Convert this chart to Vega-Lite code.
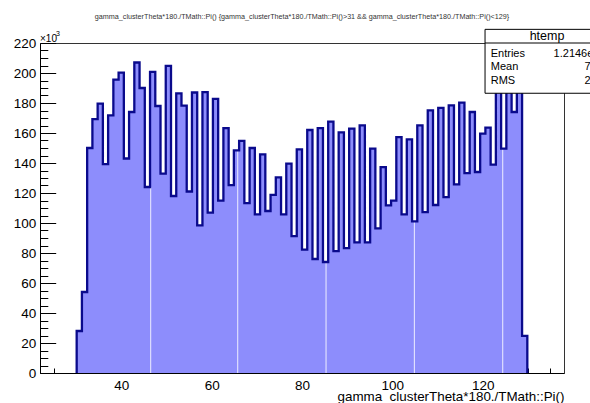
{
  "$schema": "https://vega.github.io/schema/vega-lite/v6.json",
  "width": 524,
  "height": 330,
  "autosize": {"type": "none"},
  "padding": {"left": 40, "top": 43, "right": 26, "bottom": 30},
  "background": "white",
  "config": {
    "view": {"stroke": "#333333", "strokeWidth": 1},
    "font": "Liberation Sans",
    "axis": {"labelFont": "Liberation Sans", "titleFont": "Liberation Sans", "grid": false}
  },
  "datasets": {
    "hist": [
      {"x": 30.12, "v": 0},
      {"x": 30.12, "v": 28000},
      {"x": 31.28, "v": 54000},
      {"x": 32.44, "v": 150000},
      {"x": 33.60, "v": 169300},
      {"x": 34.76, "v": 179600},
      {"x": 35.92, "v": 139300},
      {"x": 37.08, "v": 171800},
      {"x": 38.24, "v": 195600},
      {"x": 39.40, "v": 200200},
      {"x": 40.56, "v": 143000},
      {"x": 41.72, "v": 174000},
      {"x": 42.88, "v": 207000},
      {"x": 44.04, "v": 190000},
      {"x": 45.20, "v": 124000},
      {"x": 46.36, "v": 200700},
      {"x": 47.52, "v": 178000},
      {"x": 48.68, "v": 132900},
      {"x": 49.84, "v": 204700},
      {"x": 51.00, "v": 118000},
      {"x": 52.16, "v": 186400},
      {"x": 53.32, "v": 178200},
      {"x": 54.48, "v": 121000},
      {"x": 55.64, "v": 187000},
      {"x": 56.80, "v": 98400},
      {"x": 57.96, "v": 187300},
      {"x": 59.12, "v": 106900},
      {"x": 60.28, "v": 182700},
      {"x": 61.44, "v": 114900},
      {"x": 62.60, "v": 163300},
      {"x": 63.76, "v": 125300},
      {"x": 64.92, "v": 148400},
      {"x": 66.08, "v": 154700},
      {"x": 67.24, "v": 113300},
      {"x": 68.40, "v": 150000},
      {"x": 69.56, "v": 105800},
      {"x": 70.72, "v": 145800},
      {"x": 71.88, "v": 108000},
      {"x": 73.04, "v": 118700},
      {"x": 74.20, "v": 130400},
      {"x": 75.36, "v": 105800},
      {"x": 76.52, "v": 139600},
      {"x": 77.68, "v": 91300},
      {"x": 78.84, "v": 149100},
      {"x": 80.00, "v": 82200},
      {"x": 81.16, "v": 162000},
      {"x": 82.32, "v": 76000},
      {"x": 83.48, "v": 163300},
      {"x": 84.64, "v": 74000},
      {"x": 85.80, "v": 167600},
      {"x": 86.96, "v": 81300},
      {"x": 88.12, "v": 160400},
      {"x": 89.28, "v": 83300},
      {"x": 90.44, "v": 162900},
      {"x": 91.60, "v": 87100},
      {"x": 92.76, "v": 165100},
      {"x": 93.92, "v": 87100},
      {"x": 95.08, "v": 149600},
      {"x": 96.24, "v": 96400},
      {"x": 97.40, "v": 137300},
      {"x": 98.56, "v": 111800},
      {"x": 99.72, "v": 114900},
      {"x": 100.88, "v": 157300},
      {"x": 102.04, "v": 105800},
      {"x": 103.20, "v": 155800},
      {"x": 104.36, "v": 101100},
      {"x": 105.52, "v": 165100},
      {"x": 106.68, "v": 107300},
      {"x": 107.84, "v": 175100},
      {"x": 109.00, "v": 112000},
      {"x": 110.16, "v": 176700},
      {"x": 111.32, "v": 117300},
      {"x": 112.48, "v": 178400},
      {"x": 113.64, "v": 125800},
      {"x": 114.80, "v": 180200},
      {"x": 115.96, "v": 133300},
      {"x": 117.12, "v": 174000},
      {"x": 118.28, "v": 134000},
      {"x": 119.44, "v": 159600},
      {"x": 120.60, "v": 163600},
      {"x": 121.76, "v": 138900},
      {"x": 122.92, "v": 200000},
      {"x": 124.08, "v": 149600},
      {"x": 125.24, "v": 209500},
      {"x": 126.40, "v": 174000},
      {"x": 127.56, "v": 196000},
      {"x": 128.72, "v": 24700},
      {"x": 129.88, "v": 0}
    ],
    "seams": [
      {"x": 46.51, "v": 124000},
      {"x": 65.77, "v": 148400},
      {"x": 85.32, "v": 74000},
      {"x": 104.87, "v": 101100},
      {"x": 124.44, "v": 149600}
    ],
    "one": [{}]
  },
  "resolve": {"axis": {"x": "independent", "y": "independent"}},
  "layer": [
    {
      "data": {"name": "hist"},
      "mark": {"type": "area", "interpolate": "step-after", "fill": "#8d8dfc", "stroke": null},
      "encoding": {
        "x": {
          "field": "x", "type": "quantitative",
          "scale": {"domain": [22, 138], "nice": false, "zero": false},
          "axis": {
            "orient": "bottom",
            "values": [40, 60, 80, 100, 120],
            "tickSize": -10, "tickColor": "#000000", "tickWidth": 1,
            "domainColor": "#000000", "domainWidth": 1,
            "labelFontSize": 13.5, "labelColor": "#000000", "labelPadding": 15,
            "format": "d",
            "title": "gamma_clusterTheta*180./TMath::Pi()",
            "titleFontSize": 13.4, "titleFontWeight": "normal", "titleColor": "#000000",
            "titleAnchor": "end", "titleAlign": "right", "titleBaseline": "alphabetic", "titleY": 27.3
          }
        },
        "y": {
          "field": "v", "type": "quantitative",
          "scale": {"domain": [0, 220000], "nice": false},
          "axis": {
            "orient": "left",
            "values": [0, 20000, 40000, 60000, 80000, 100000, 120000, 140000, 160000, 180000, 200000, 220000],
            "tickSize": -15.7, "tickColor": "#000000", "tickWidth": 1,
            "domainColor": "#000000", "domainWidth": 1,
            "labelFontSize": 13.5, "labelColor": "#000000", "labelPadding": 20,
            "labelExpr": "format(datum.value / 1000, 'd')",
            "title": null
          }
        }
      }
    },
    {
      "data": {"name": "seams"},
      "mark": {"type": "rule", "color": "#ffffff", "strokeWidth": 1, "opacity": 0.85},
      "encoding": {
        "x": {"field": "x", "type": "quantitative", "axis": null},
        "y": {"field": "v", "type": "quantitative", "axis": null},
        "y2": {"datum": 0}
      }
    },
    {
      "data": {"name": "hist"},
      "mark": {"type": "line", "interpolate": "step-after", "stroke": "#0a0a8c", "strokeWidth": 2.3},
      "encoding": {
        "x": {
          "field": "x", "type": "quantitative",
          "axis": {
            "orient": "bottom",
            "values": [25, 30, 35, 45, 50, 55, 65, 70, 75, 85, 90, 95, 105, 110, 115, 125, 130, 135],
            "tickSize": -5, "tickColor": "#000000", "tickWidth": 1,
            "domain": false, "labels": false, "title": null
          }
        },
        "y": {
          "field": "v", "type": "quantitative",
          "axis": {
            "orient": "left",
            "values": [5000, 10000, 15000, 25000, 30000, 35000, 45000, 50000, 55000, 65000, 70000, 75000, 85000, 90000, 95000, 105000, 110000, 115000, 125000, 130000, 135000, 145000, 150000, 155000, 165000, 170000, 175000, 185000, 190000, 195000, 205000, 210000, 215000],
            "tickSize": -7.8, "tickColor": "#000000", "tickWidth": 1,
            "domain": false, "labels": false, "title": null
          }
        }
      }
    },
    {
      "data": {"name": "one"},
      "mark": {"type": "rect", "fill": "#ffffff", "stroke": "#000000", "strokeWidth": 1},
      "encoding": {
        "x": {"datum": 120.52, "type": "quantitative", "axis": null},
        "x2": {"datum": 160},
        "y": {"datum": 229100, "type": "quantitative", "axis": null},
        "y2": {"datum": 186500}
      }
    },
    {
      "data": {"name": "one"},
      "mark": {"type": "rule", "stroke": "#000000", "strokeWidth": 1},
      "encoding": {
        "x": {"datum": 120.52, "type": "quantitative", "axis": null},
        "x2": {"datum": 160},
        "y": {"datum": 220000, "type": "quantitative", "axis": null}
      }
    },
    {
      "data": {"name": "one"},
      "mark": {"type": "text", "align": "center", "baseline": "alphabetic", "fontSize": 12.5, "color": "#000000"},
      "encoding": {
        "x": {"datum": 134.24, "type": "quantitative", "axis": null},
        "y": {"datum": 222300, "type": "quantitative", "axis": null},
        "text": {"value": "htemp"}
      }
    },
    {
      "data": {"name": "one"},
      "mark": {"type": "text", "align": "left", "baseline": "alphabetic", "fontSize": 11, "color": "#000000"},
      "encoding": {
        "x": {"datum": 121.78, "type": "quantitative", "axis": null},
        "y": {"datum": 210700, "type": "quantitative", "axis": null},
        "text": {"value": "Entries"}
      }
    },
    {
      "data": {"name": "one"},
      "mark": {"type": "text", "align": "left", "baseline": "alphabetic", "fontSize": 11, "color": "#000000"},
      "encoding": {
        "x": {"datum": 121.78, "type": "quantitative", "axis": null},
        "y": {"datum": 201800, "type": "quantitative", "axis": null},
        "text": {"value": "Mean"}
      }
    },
    {
      "data": {"name": "one"},
      "mark": {"type": "text", "align": "left", "baseline": "alphabetic", "fontSize": 11, "color": "#000000"},
      "encoding": {
        "x": {"datum": 121.78, "type": "quantitative", "axis": null},
        "y": {"datum": 192500, "type": "quantitative", "axis": null},
        "text": {"value": "RMS"}
      }
    },
    {
      "data": {"name": "one"},
      "mark": {"type": "text", "align": "right", "baseline": "alphabetic", "fontSize": 11, "color": "#000000"},
      "encoding": {
        "x": {"datum": 148.63, "type": "quantitative", "axis": null},
        "y": {"datum": 210700, "type": "quantitative", "axis": null},
        "text": {"value": "1.2146e+07"}
      }
    },
    {
      "data": {"name": "one"},
      "mark": {"type": "text", "align": "right", "baseline": "alphabetic", "fontSize": 11, "color": "#000000"},
      "encoding": {
        "x": {"datum": 148.63, "type": "quantitative", "axis": null},
        "y": {"datum": 201800, "type": "quantitative", "axis": null},
        "text": {"value": "79.21"}
      }
    },
    {
      "data": {"name": "one"},
      "mark": {"type": "text", "align": "right", "baseline": "alphabetic", "fontSize": 11, "color": "#000000"},
      "encoding": {
        "x": {"datum": 148.63, "type": "quantitative", "axis": null},
        "y": {"datum": 192500, "type": "quantitative", "axis": null},
        "text": {"value": "29.04"}
      }
    },
    {
      "data": {"name": "one"},
      "mark": {"type": "text", "align": "left", "baseline": "alphabetic", "fontSize": 10, "color": "#000000"},
      "encoding": {
        "x": {"datum": 22.0, "type": "quantitative", "axis": null},
        "y": {"datum": 220700, "type": "quantitative", "axis": null},
        "text": {"value": "×10"}
      }
    },
    {
      "data": {"name": "one"},
      "mark": {"type": "text", "align": "left", "baseline": "alphabetic", "fontSize": 7, "color": "#000000"},
      "encoding": {
        "x": {"datum": 25.54, "type": "quantitative", "axis": null},
        "y": {"datum": 224800, "type": "quantitative", "axis": null},
        "text": {"value": "3"}
      }
    },
    {
      "data": {"name": "one"},
      "mark": {"type": "text", "align": "center", "baseline": "alphabetic", "fontSize": 7.2, "color": "#333333"},
      "encoding": {
        "x": {"datum": 80, "type": "quantitative", "axis": null},
        "y": {"datum": 235800, "type": "quantitative", "axis": null},
        "text": {"value": "gamma_clusterTheta*180./TMath::Pi() {gamma_clusterTheta*180./TMath::Pi()>31 && gamma_clusterTheta*180./TMath::Pi()<129}"}
      }
    }
  ]
}
